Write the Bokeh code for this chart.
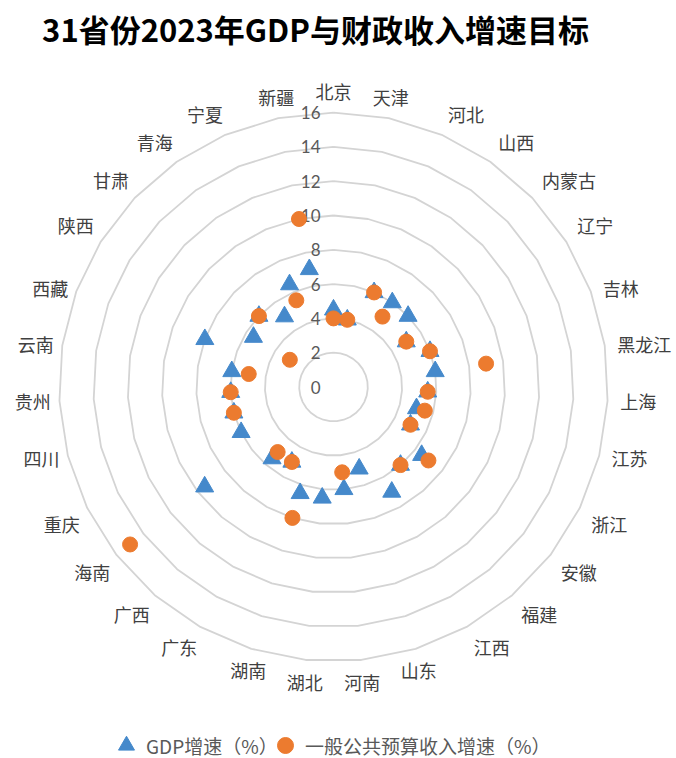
import math
import numpy as np
from bokeh.plotting import figure
from bokeh.models import ColumnDataSource, Range1d, Legend, LegendItem, Label
from bokeh.embed import file_html
from bokeh.resources import INLINE
from bokeh.core.properties import value

# ---------------- data ----------------
TITLE = "31省份2023年GDP与财政收入增速目标"
provinces = ["北京", "天津", "河北", "山西", "内蒙古", "辽宁", "吉林", "黑龙江",
             "上海", "江苏", "浙江", "安徽", "福建", "江西", "山东", "河南",
             "湖北", "湖南", "广东", "广西", "海南", "重庆", "四川", "贵州",
             "云南", "西藏", "陕西", "甘肃", "青海", "宁夏", "新疆"]
gdp_growth = [4.5, 4, 6, 6, 6, 5, 6, 6,
              5.5, 5, 5, 6.5, 6, 7, 5, 6,
              6.5, 6.5, 5, 5.5, 9.5, 6, 6, 6,
              6, 8, 5.5, 6, 5, 6.5, 7]
nan = float("nan")
revenue_growth = [4, 4, 6, 5, nan, 5, 6, 9,
                  5.5, 5.5, 5, 7, 6, nan, nan, 5,
                  nan, 8, 5, 5, 15, nan, 6, 6,
                  5, nan, 3, 6, nan, 5.5, 10]
radial_ticks = [0, 2, 4, 6, 8, 10, 12, 14, 16]
series_names = ["GDP增速（%）", "一般公共预算收入增速（%）"]

# ---------------- layout ----------------
W, H = 676, 758
PX = 17.15                 # pixels per unit
CX_PX, CY_PX = 333.0, 386.5
BLUE = "#4589CB"
ORANGE = "#EC7B2F"
CJK = "Noto Sans CJK SC"

p = figure(width=W, height=H, output_backend="svg", toolbar_location=None,
           x_range=Range1d(-CX_PX / PX, (W - CX_PX) / PX),
           y_range=Range1d(-(H - CY_PX) / PX, CY_PX / PX),
           x_axis_location=None, y_axis_location=None,
           min_border=0, outline_line_color=None,
           background_fill_color="white", border_fill_color="white")
p.grid.visible = False

n = len(provinces)
ang = np.array([2 * math.pi * i / n for i in range(n)])
sin_a, cos_a = np.sin(ang), np.cos(ang)

# grid polygons
gx, gy = [], []
for t in radial_ticks[1:]:
    gx.append(list(t * sin_a) + [t * sin_a[0]])
    gy.append(list(t * cos_a) + [t * cos_a[0]])
p.multi_line(gx, gy, line_color="#d4d4d4", line_width=1.8)

# radial tick labels
p.text(x=[0] * len(radial_ticks), y=radial_ticks, text=[str(t) for t in radial_ticks],
       x_offset=-13, text_align="right", text_baseline="middle",
       text_font=value("Lato"), text_font_size="17px", text_color="#595959")

# category labels
LABEL_R = 285 / PX
groups = {"left": dict(x=[], y=[], text=[], yo=[]),
          "right": dict(x=[], y=[], text=[], yo=[]),
          "center": dict(x=[], y=[], text=[], yo=[])}
for i, name in enumerate(provinces):
    s, c = sin_a[i], cos_a[i]
    if abs(s) < 0.35:
        g = "center"
    elif s > 0:
        g = "left"
    else:
        g = "right"
    yo = -11 if c > 0.4 else (11 if c < -0.4 else 0)
    groups[g]["x"].append(LABEL_R * s)
    groups[g]["y"].append(LABEL_R * c)
    groups[g]["text"].append(name)
    groups[g]["yo"].append(yo)
for g, d in groups.items():
    src = ColumnDataSource(d)
    p.text(x="x", y="y", text="text", y_offset="yo", x_offset=0 if g == "center" else 2,
           source=src, text_align=g, text_baseline="middle",
           text_font=value(CJK), text_font_size="18px", text_color="#404040")

# series
gdp = np.array(gdp_growth, dtype=float)
rev = np.array(revenue_growth, dtype=float)
r1 = p.scatter(gdp * sin_a, gdp * cos_a, marker="triangle", size=18,
               fill_color=BLUE, line_color=BLUE)
r2 = p.scatter(rev * sin_a, rev * cos_a, marker="circle", size=15,
               fill_color=ORANGE, line_color=ORANGE)

legend_style = dict(orientation="horizontal", glyph_width=40, glyph_height=40,
                    padding=0, margin=0, border_line_color=None,
                    background_fill_alpha=0,
                    label_text_font=CJK, label_text_font_size="19px",
                    label_text_color="#595959")
leg1 = Legend(items=[LegendItem(label=series_names[0], renderers=[r1])],
              location=(106, -7), label_standoff=-6, **legend_style)
leg2 = Legend(items=[LegendItem(label=series_names[1], renderers=[r2])],
              location=(265, -7), label_standoff=-8, **legend_style)
p.add_layout(leg1, "center")
p.add_layout(leg2, "center")

title = Label(x=315, y=H - 28, x_units="screen", y_units="screen", text=TITLE,
              text_align="center", text_baseline="middle",
              text_font=CJK, text_font_size="31px", text_font_style="bold",
              text_color="black")
p.add_layout(title)

open("out.html", "w").write(file_html(p, INLINE))
